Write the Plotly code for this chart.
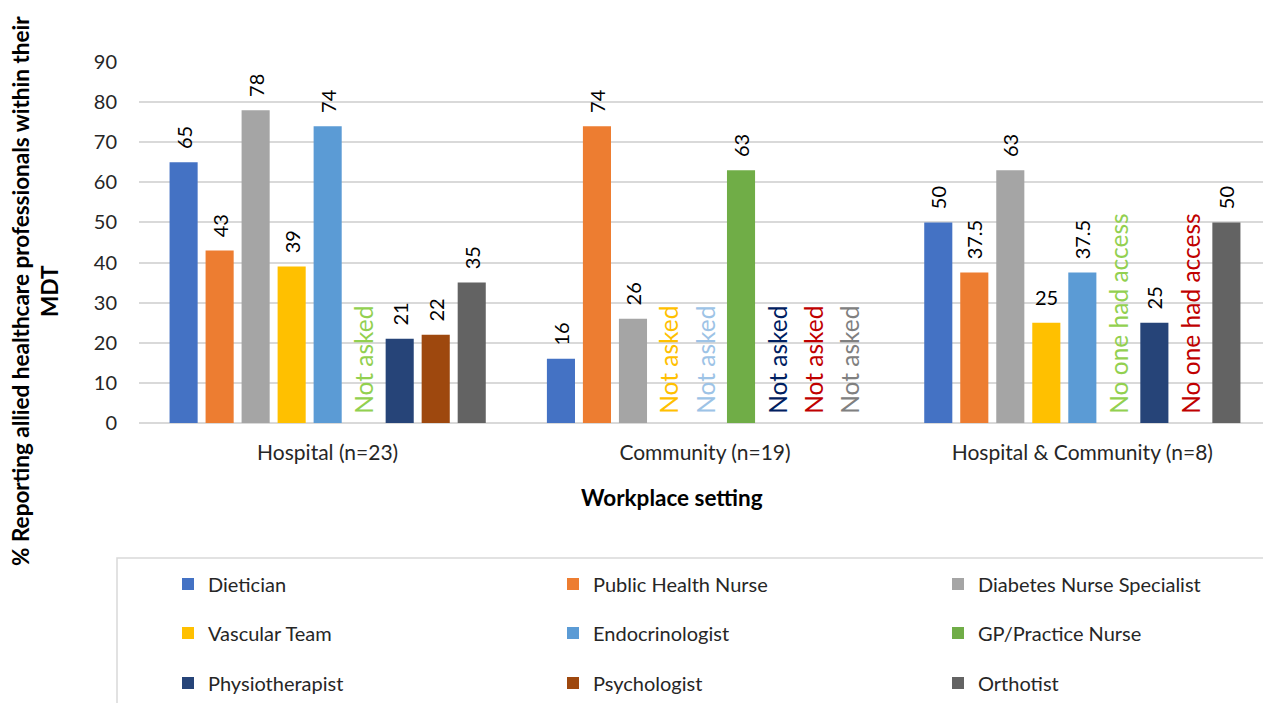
import plotly.graph_objects as go

categories = ["Hospital (n=23)", "Community (n=19)", "Hospital & Community (n=8)"]
series = ["Dietician", "Public Health Nurse", "Diabetes Nurse Specialist",
          "Vascular Team", "Endocrinologist", "GP/Practice Nurse",
          "Physiotherapist", "Psychologist", "Orthotist"]
colors = ["#4472C4", "#ED7D31", "#A5A5A5", "#FFC000", "#5B9BD5", "#70AD47",
          "#264478", "#9E480E", "#636363"]
# None = no value; notes give the text shown instead
values = {
    "Dietician": [65, 16, 50],
    "Public Health Nurse": [43, 74, 37.5],
    "Diabetes Nurse Specialist": [78, 26, 63],
    "Vascular Team": [39, None, 25],
    "Endocrinologist": [74, None, 37.5],
    "GP/Practice Nurse": [None, 63, None],
    "Physiotherapist": [21, None, 25],
    "Psychologist": [22, None, None],
    "Orthotist": [35, None, 50],
}
notes = {
    "Vascular Team": [None, "Not asked", None],
    "Endocrinologist": [None, "Not asked", None],
    "GP/Practice Nurse": ["Not asked", None, "No one had access"],
    "Physiotherapist": [None, "Not asked", None],
    "Psychologist": [None, "Not asked", "No one had access"],
    "Orthotist": [None, "Not asked", None],
}
note_colors = {
    "Vascular Team": "#FFC000",
    "Endocrinologist": "#9DC3E6",
    "GP/Practice Nurse": "#92D050",
    "Physiotherapist": "#002060",
    "Psychologist": "#C00000",
    "Orthotist": "#808080",
}
# value labels drawn horizontally (series, category index)
horizontal_labels = [("Vascular Team", 2)]

FONT = "Lato"
OFF = 8  # page body margin of the html page
W, H = 1271 - OFF, 703 - OFF
L, R, T, B = 139 - OFF, 0, 62 - OFF, 703 - 423
pw, ph = W - L - R, H - T - B
BARGAP, GROUPGAP = 0.141, 0.22
VAL_SIZE, NOTE_SIZE = 20, 24.5

def px_x(x):
    """reference-screen pixel -> paper fraction"""
    return (x - OFF - L) / pw

def px_y(y):
    return (H - B - (y - OFF)) / ph

fig = go.Figure()
NB = "\u00a0"
annotations = []
n = len(series)
for i, s in enumerate(series):
    vals = values[s]
    nts = notes.get(s, [None] * 3)
    ys, texts, tcols, tsizes = [], [], [], []
    for j, c in enumerate(categories):
        v = vals[j]
        if v is None:
            ys.append(0)
            if nts[j]:
                texts.append(NB + nts[j])
                tcols.append(note_colors[s])
                tsizes.append(NOTE_SIZE)
            else:
                texts.append("")
                tcols.append("#000")
                tsizes.append(VAL_SIZE)
        else:
            ys.append(v)
            tcols.append("#000000")
            tsizes.append(VAL_SIZE)
            if (s, j) in horizontal_labels:
                texts.append("")
                # slot centre in category units from bargap / group size
                slot = (1 - BARGAP) / n
                annotations.append(dict(
                    x=j + (i - (n - 1) / 2) * slot, y=v, xref="x", yref="y",
                    text=f"{v:g}", showarrow=False, yanchor="bottom", yshift=12,
                    font=dict(family=FONT, size=VAL_SIZE, color="#000000")))
            else:
                texts.append(NB * 2 + f"{v:g}")
    row = i // 3
    col = i % 3
    legend_id = ["legend", "legend2", "legend3"][row]
    fig.add_trace(go.Bar(
        name=s, x=categories, y=ys, marker=dict(color=colors[i], line=dict(width=0)),
        text=texts, textposition="outside", textangle=-90,
        textfont=dict(color=tcols, size=tsizes, family=FONT),
        constraintext="none", cliponaxis=False,
        legend=legend_id, legendwidth=(340 if col < 2 else None),
        hoverinfo="x+y+name",
    ))

legend_common = dict(orientation="h", xanchor="left", yanchor="middle",
                     font=dict(family=FONT, size=20, color="#262626"),
                     bgcolor="rgba(0,0,0,0)", borderwidth=0,
                     itemclick=False, itemdoubleclick=False)
lx = px_x(168)
annotations += [
    dict(text="<b>% Reporting allied healthcare professionals within their<br>MDT</b>",
         xref="paper", yref="paper", x=px_x(35), y=px_y(291),
         xanchor="center", yanchor="middle", textangle=-90, showarrow=False,
         font=dict(family=FONT, size=22.5, color="#000000")),
    dict(text="<b>Workplace setting</b>", xref="paper", yref="paper",
         x=px_x(672), y=px_y(497), xanchor="center", yanchor="middle",
         showarrow=False, font=dict(family=FONT, size=22.5, color="#000000")),
]
fig.update_layout(
    width=W, height=H,
    margin=dict(l=L, r=R, t=T, b=B),
    paper_bgcolor="white", plot_bgcolor="white",
    barmode="group", bargap=BARGAP, bargroupgap=GROUPGAP,
    font=dict(family=FONT, color="#404040"),
    showlegend=True,
    legend=dict(x=lx, y=px_y(584), **legend_common),
    legend2=dict(x=lx, y=px_y(633), **legend_common),
    legend3=dict(x=lx, y=px_y(683), **legend_common),
    xaxis=dict(categoryorder="array", categoryarray=categories,
               tickfont=dict(family=FONT, size=21, color="#262626"),
               showline=False, ticks="", ticklabelstandoff=15),
    yaxis=dict(range=[0, 90], dtick=10, tick0=0,
               tickfont=dict(family=FONT, size=20, color="#262626"),
               showgrid=True, gridcolor="#D9D9D9", gridwidth=1.5,
               zeroline=True, zerolinecolor="#D9D9D9", zerolinewidth=1.5,
               showline=False, ticks="", ticklabelstandoff=21),
    shapes=[dict(type="rect", xref="paper", yref="paper",
                 x0=px_x(117), x1=px_x(1269), y0=px_y(558), y1=px_y(710),
                 line=dict(color="#D9D9D9", width=1.5), fillcolor="rgba(0,0,0,0)")],
    annotations=annotations,
)

fig.write_html("out.html")
